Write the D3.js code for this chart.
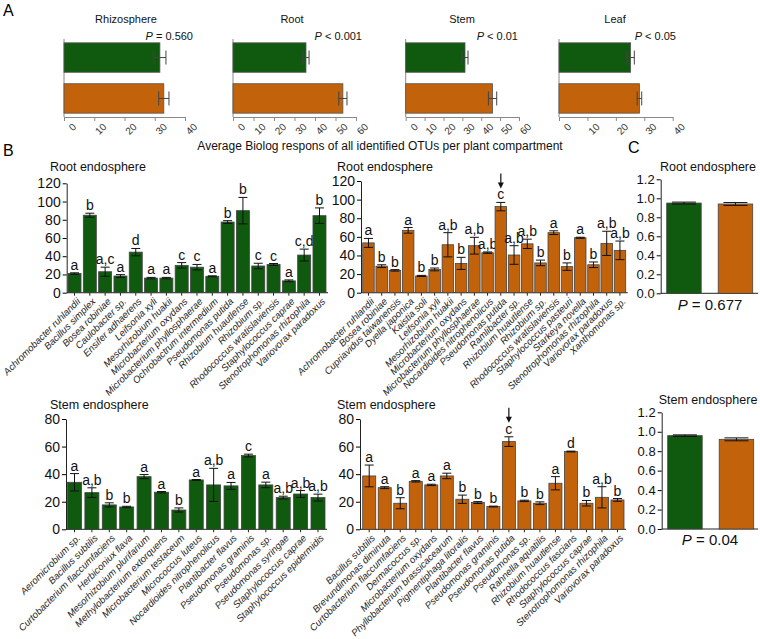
<!DOCTYPE html>
<html><head><meta charset="utf-8">
<script src="https://cdn.jsdelivr.net/npm/d3@7"></script>
<style>body{margin:0;background:#fff} svg{font-family:"Liberation Sans",Arial,sans-serif}</style>
</head><body><svg id="c" width="760" height="639"></svg>
<script>
const GREEN="#0f5a0f", ORANGE="#c2620a";

// ---------- Panel A data ----------
const aCompartments=["Rhizosphere","Root","Stem","Leaf"];
const aGreenVals=[31.7,35.6,31.4,25.2];
const aGreenErr=[2.0,1.5,1.6,1.3];
const aOrangeVals=[33.0,53.6,46.0,28.3];
const aOrangeErr=[1.7,2.0,2.2,0.8];
const aPText=[" = 0.560"," < 0.001"," < 0.01"," < 0.05"];
const aMax=[40,60,60,40];
const aTicks=[[0,10,20,30,40],[0,10,20,30,40,50,60],[0,10,20,30,40,50,60],[0,10,20,30,40]];

// ---------- Panel B data ----------
const rootGreenCats=["Achromobacter ruhlandii","Bacillus simplex","Bosea robiniae","Caulobacter sp.","Ensifer adhaerens","Leifsonia xyli","Mesorhizobium huakii","Microbacterium oxydans","Microbacterium phyllosphaerae","Ochrobactrum intermedium","Pseudomonas putida","Rhizobium huautlense","Rhizobium sp.","Rhodococcus wratislaviensis","Staphylococcus caprae","Stenotrophomonas rhizophila","Variovorax paradoxus"];
const rootGreenVals=[21,85,23,18.3,44.5,16,16,30,28,18,77.5,90,29.3,31,13,41.3,84.5];
const rootGreenErr=[0.8,2.2,5,1.5,4,0.8,0.8,3,3,0.5,1.5,14.5,3,1,1,6.5,8.5];
const rootGreenLetters=["a","b","a,c","a","d","a","a","c","c","a","b","b","c","c","a","c,d","b"];

const rootOrangeCats=["Achromobacter ruhlandii","Bosea robiniae","Cupriavidus taiwanensis","Dyella japonica","Kaistia soli","Leifsonia xyli","Mesorhizobium huakii","Microbacterium oxydans","Microbacterium phyllosphaerae","Nocardioides nitrophenolicus","Pseudomonas putida","Ramlibacter sp.","Rhizobium huautlense","Rhizobium sp.","Rhodococcus wratislaviensis","Staphylococcus pasteuri","Starkeya novella","Stenotrophomonas rhizophila","Variovorax paradoxus","Xanthomonas sp."];
const rootOrangeVals=[53.5,28.5,24,67,18,25,51.5,31.5,50.5,43,92.5,40.5,52.5,32,64.5,28,59,30,53,45.5];
const rootOrangeErr=[4.8,1.5,0.8,3,0.6,1.5,13,6.5,9,0.8,4.5,10,5,3,2,4,0.6,3,13,10];
const rootOrangeLetters=["a","b","b","a","b","b","a,b","b","a,b","a,b","c","a,b","a,b","b","a","b","a","b","a,b","a,b"];

const stemGreenCats=["Aeromicrobium sp.","Bacillus subtilis","Curtobacterium flaccumfaciens","Herbiconiux flava","Mesorhizobium plurifarium","Methylobacterium extorquens","Microbacterium testaceum","Micrococcus luteus","Nocardioides nitrophenolicus","Plantibacter flavus","Pseudomonas graminis","Pseudomonas sp.","Pseudomonas syringae","Staphylococcus caprae","Staphylococcus epidermidis"];
const stemGreenVals=[34.1,26.6,17.7,16.2,38.2,26.9,14,35.8,32.2,31.5,53.5,32.2,23,25.6,23];
const stemGreenErr=[6.3,3.5,1.5,0.5,1.5,0.5,1.5,0.3,12,2.5,1,2,1,2.5,2.5];
const stemGreenLetters=["a","a,b","b","b","a","a","b","a","a,b","a","c","a","a,b","a,b","a,b"];

const stemOrangeCats=["Bacillus subtilis","Brevundimonas diminuta","Curtobacterium flaccumfaciens","Dermacoccus sp.","Microbacterium oxydans","Phyllobacterium brassicacearum","Pigmentiphaga litoralis","Plantibacter flavus","Pseudomonas graminis","Pseudomonas putida","Pseudomonas sp.","Rahnella aquatilis","Rhizobium huautlense","Rhodococcus fascians","Staphylococcus caprae","Stenotrophomonas rhizophila","Variovorax paradoxus"];
const stemOrangeVals=[38.7,30.2,18.9,34.8,32.2,38.7,21.8,19.4,16.5,63.6,20.6,18.9,33.4,56.4,18.9,23.2,21.3];
const stemOrangeErr=[7.9,0.7,4,0.5,0.5,2,3,0.7,0.3,3.5,0.5,1,4.8,0.3,2,7.7,1];
const stemOrangeLetters=["a","a","b","a","a","a","b","b","b","c","b","b","a","d","b","a,b","b"];

// ---------- Panel C data ----------
const cTitles=["Root endosphere","Stem endosphere"];
const cGreenVals=[0.95,0.96];
const cGreenErr=[0.01,0.008];
const cOrangeVals=[0.94,0.922];
const cOrangeErr=[0.015,0.015];
const cPText=[" = 0.677"," = 0.04"];
const cTicks=[0,0.2,0.4,0.6,0.8,1.0,1.2];

const svg=d3.select("#c");

function pText(g,x,y,txt,size,anchor){
  const t=g.append("text").attr("x",x).attr("y",y).attr("font-size",size).attr("text-anchor",anchor).attr("fill","#111");
  t.append("tspan").attr("font-style","italic").text("P");
  t.append("tspan").text(txt);
}

// panel letters
svg.append("text").attr("x",3).attr("y",16).attr("font-size",16).text("A");
svg.append("text").attr("x",3).attr("y",156).attr("font-size",16).text("B");
svg.append("text").attr("x",628).attr("y",153).attr("font-size",16).text("C");

// ---------- Panel A ----------
const aLayout=[{x0:64,x1:185,tx:126,px:193},{x0:233,x1:356,tx:292,px:362},{x0:405.7,x1:519,tx:462,px:518},{x0:559,x1:672.7,tx:615,px:676}];
aCompartments.forEach((name,i)=>{
  const L=aLayout[i];
  const g=svg.append("g");
  const x=d3.scaleLinear().domain([0,aMax[i]]).range([L.x0,L.x1]);
  const y=d3.scaleBand().domain(["g","o"]).range([42,114]).paddingInner(0.28).paddingOuter(0.02);
  const ax=g.append("g").attr("transform","translate(0,117)").call(d3.axisBottom(x).tickValues(aTicks[i]).tickSize(4).tickSizeOuter(0));
  ax.select(".domain").attr("stroke","#888");
  ax.selectAll(".tick line").attr("stroke","#888");
  ax.selectAll("text").attr("font-size",10).attr("fill","#333").attr("text-anchor","end")
    .attr("transform","translate(4,2) rotate(-45)").attr("dy","0.5em").attr("dx","0");
  g.append("line").attr("x1",L.x0).attr("x2",L.x0).attr("y1",39).attr("y2",117).attr("stroke","#888");
  const vals=[aGreenVals[i],aOrangeVals[i]], errs=[aGreenErr[i],aOrangeErr[i]], cols=[GREEN,ORANGE], keys=["g","o"];
  keys.forEach((k,j)=>{
    g.append("rect").attr("x",x(0)).attr("y",y(k)).attr("width",x(vals[j])-x(0)).attr("height",y.bandwidth())
      .attr("fill",cols[j]).attr("stroke","#555").attr("stroke-width",0.8);
    const cy=y(k)+y.bandwidth()/2;
    g.append("line").attr("x1",x(vals[j]-errs[j])).attr("x2",x(vals[j]+errs[j])).attr("y1",cy).attr("y2",cy).attr("stroke","#444");
    [vals[j]-errs[j],vals[j]+errs[j]].forEach(v=>g.append("line").attr("x1",x(v)).attr("x2",x(v)).attr("y1",cy-7).attr("y2",cy+7).attr("stroke","#444"));
  });
  g.append("text").attr("x",L.tx).attr("y",23).attr("font-size",11).attr("text-anchor","middle").attr("fill","#111").text(name);
  pText(g,L.px,40,aPText[i],11,"end");
});
svg.append("text").attr("x",380).attr("y",150).attr("font-size",12).attr("text-anchor","middle").attr("fill","#111")
  .text("Average Biolog respons of all identified OTUs per plant compartment");

// ---------- Panel B ----------
function barPanel(cfg){
  const g=svg.append("g");
  const y=d3.scaleLinear().domain([0,cfg.yMax]).range([cfg.y0,cfg.yTop]);
  const x=d3.scaleBand().domain(cfg.cats).range([cfg.b0,cfg.b1]).paddingInner(cfg.pad).paddingOuter(0);
  const ay=g.append("g").attr("transform",`translate(${cfg.ax},0)`).call(d3.axisLeft(y).tickValues(cfg.ticks).tickSize(4).tickPadding(2).tickSizeOuter(0));
  ay.selectAll("text").attr("font-size",14).attr("fill","#111");
  ay.select(".domain").attr("stroke","#222");
  // x axis
  g.append("line").attr("x1",cfg.ax).attr("x2",cfg.b1+2).attr("y1",cfg.y0).attr("y2",cfg.y0).attr("stroke","#222");
  cfg.cats.forEach((c,i)=>{
    const cx=x(c)+x.bandwidth()/2;
    g.append("line").attr("x1",cx).attr("x2",cx).attr("y1",cfg.y0).attr("y2",cfg.y0+3).attr("stroke","#222");
    g.append("rect").attr("x",x(c)).attr("y",y(cfg.vals[i])).attr("width",x.bandwidth()).attr("height",cfg.y0-y(cfg.vals[i]))
      .attr("fill",cfg.color).attr("stroke","#444").attr("stroke-width",0.8);
    const lo=y(cfg.vals[i]-cfg.errs[i]), hi=y(cfg.vals[i]+cfg.errs[i]);
    g.append("line").attr("x1",cx).attr("x2",cx).attr("y1",lo).attr("y2",hi).attr("stroke","#111");
    [lo,hi].forEach(yy=>g.append("line").attr("x1",cx-4.5).attr("x2",cx+4.5).attr("y1",yy).attr("y2",yy).attr("stroke","#111"));
    const lb=hi-3;
    g.append("text").attr("x",cx).attr("y",lb).attr("font-size",14).attr("text-anchor","middle").attr("fill","#111").text(cfg.letters[i]);
    if(i===cfg.arrow){
      g.append("line").attr("x1",cx).attr("x2",cx).attr("y1",lb-26).attr("y2",lb-14).attr("stroke","#111").attr("stroke-width",1.2);
      g.append("path").attr("d",`M${cx-3},${lb-17}L${cx+3},${lb-17}L${cx},${lb-11}Z`).attr("fill","#111");
    }
    g.append("text").attr("transform",`translate(${cx+4},${cfg.y0+7}) rotate(-45)`).attr("text-anchor","end")
      .attr("font-size",9.6).attr("font-style","italic").attr("fill","#222").attr("dy","0.35em").text(c);
  });
  g.append("text").attr("x",cfg.titleX).attr("y",cfg.titleY).attr("font-size",12.5).attr("fill","#111").text(cfg.title);
}

barPanel({cats:rootGreenCats,vals:rootGreenVals,errs:rootGreenErr,letters:rootGreenLetters,color:GREEN,
  ax:66.7,b0:68,b1:326,pad:0.15,y0:292.7,yTop:183.3,yMax:120,ticks:[0,20,40,60,80,100,120],
  title:"Root endosphere",titleX:50,titleY:171,arrow:-1});
barPanel({cats:rootOrangeCats,vals:rootOrangeVals,errs:rootOrangeErr,letters:rootOrangeLetters,color:ORANGE,
  ax:361,b0:362.7,b1:625.7,pad:0.13,y0:292.7,yTop:181,yMax:120,ticks:[0,20,40,60,80,100,120],
  title:"Root endosphere",titleX:337,titleY:171,arrow:10});
barPanel({cats:stemGreenCats,vals:stemGreenVals,errs:stemGreenErr,letters:stemGreenLetters,color:GREEN,
  ax:66,b0:67.5,b1:325,pad:0.195,y0:529.3,yTop:419,yMax:80,ticks:[0,20,40,60,80],
  title:"Stem endosphere",titleX:50,titleY:409,arrow:-1});
barPanel({cats:stemOrangeCats,vals:stemOrangeVals,errs:stemOrangeErr,letters:stemOrangeLetters,color:ORANGE,
  ax:360,b0:362.7,b1:624,pad:0.16,y0:529.3,yTop:419,yMax:80,ticks:[0,20,40,60,80],
  title:"Stem endosphere",titleX:337,titleY:409,arrow:9});

// ---------- Panel C ----------
const cLayout=[{ax:660.7,y0:293.3,yTop:179.3,titleY:171,pY:310},{ax:661.7,y0:529,yTop:412.3,titleY:404,pY:545}];
cTitles.forEach((t,i)=>{
  const L=cLayout[i];
  const g=svg.append("g");
  const y=d3.scaleLinear().domain([0,1.2]).range([L.y0,L.yTop]);
  const x=d3.scaleBand().domain(["g","o"]).range([L.ax+6,L.ax+92]).paddingInner(0.33).paddingOuter(0);
  const ay=g.append("g").attr("transform",`translate(${L.ax},0)`).call(d3.axisLeft(y).tickValues(cTicks).tickFormat(d3.format(".1f")).tickSize(4).tickPadding(2).tickSizeOuter(0));
  ay.selectAll("text").attr("font-size",13).attr("fill","#111");
  ay.select(".domain").attr("stroke","#222");
  g.append("line").attr("x1",L.ax).attr("x2",758).attr("y1",L.y0).attr("y2",L.y0).attr("stroke","#222");
  const vals=[cGreenVals[i],cOrangeVals[i]], errs=[cGreenErr[i],cOrangeErr[i]], cols=[GREEN,ORANGE];
  ["g","o"].forEach((k,j)=>{
    g.append("rect").attr("x",x(k)).attr("y",y(vals[j])).attr("width",x.bandwidth()).attr("height",L.y0-y(vals[j]))
      .attr("fill",cols[j]).attr("stroke","#444").attr("stroke-width",0.8);
    const cx=x(k)+x.bandwidth()/2, lo=y(vals[j]-errs[j]), hi=y(vals[j]+errs[j]);
    g.append("line").attr("x1",cx).attr("x2",cx).attr("y1",lo).attr("y2",hi).attr("stroke","#111");
    [lo,hi].forEach(yy=>g.append("line").attr("x1",cx-12).attr("x2",cx+12).attr("y1",yy).attr("y2",yy).attr("stroke","#111"));
  });
  g.append("text").attr("x",708).attr("y",L.titleY).attr("font-size",12.5).attr("text-anchor","middle").attr("fill","#111").text(t);
  pText(g,710,L.pY,cPText[i],15,"middle");
});
</script></body></html>
